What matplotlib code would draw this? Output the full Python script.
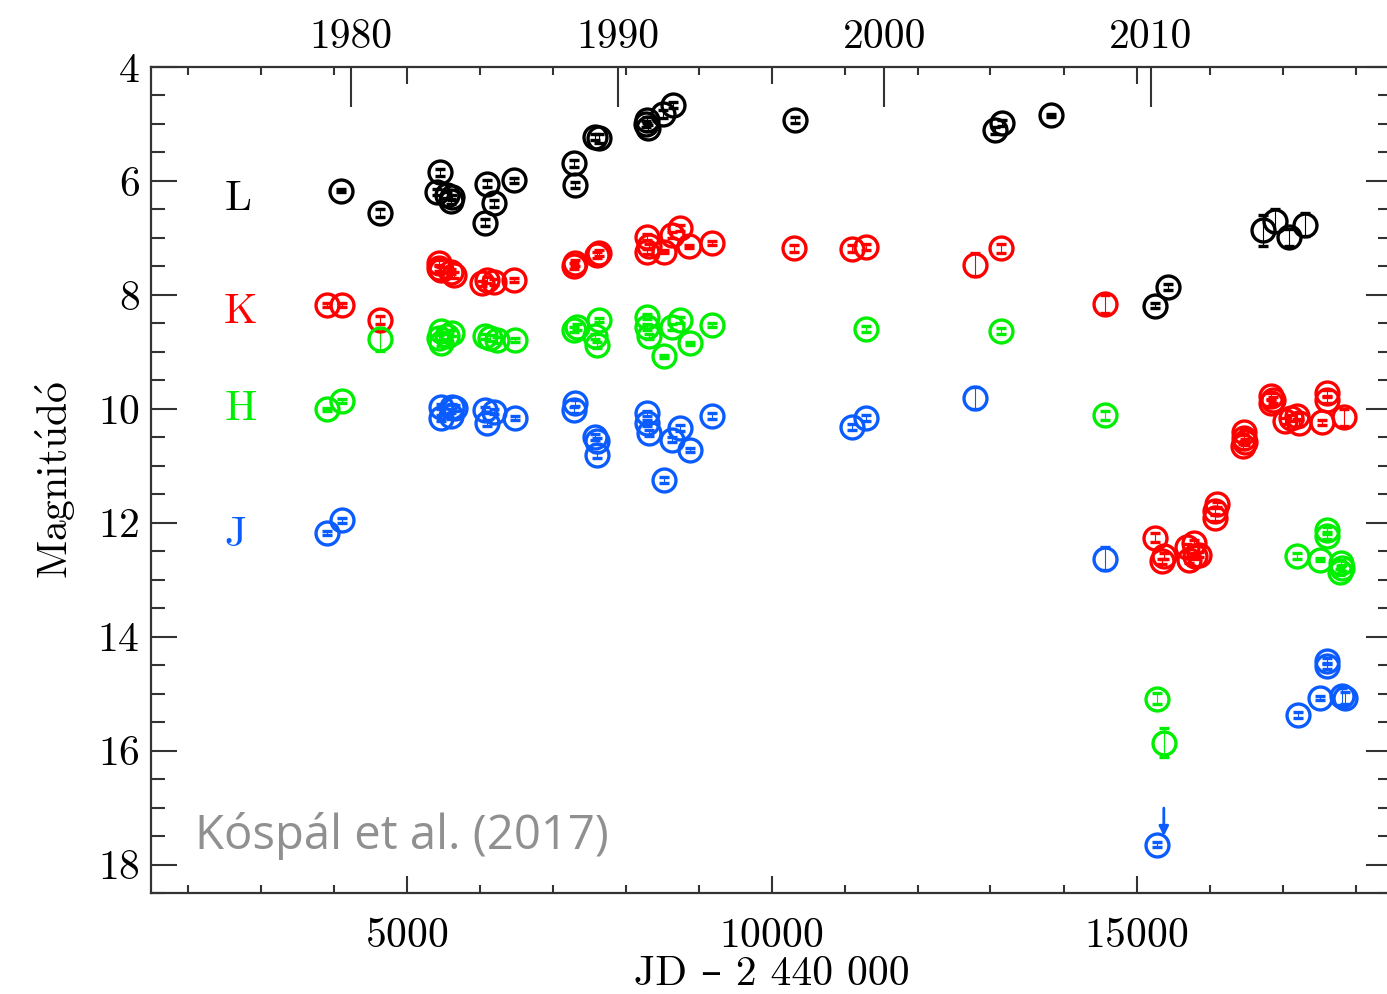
import matplotlib
matplotlib.use("Agg")
import matplotlib.pyplot as plt
from matplotlib.ticker import MultipleLocator, FixedLocator, FixedFormatter

plt.rcParams['font.family'] = ['cmr10', 'DejaVu Serif']
plt.rcParams['mathtext.fontset'] = 'cm'
plt.rcParams['axes.formatter.use_mathtext'] = True

# L band (JD - 2440000, magnitude, error)
l_jd = [4105, 4634, 5456, 5420, 5557, 5623, 5611, 6105, 6196, 6073, 6470, 7292, 7315,
        7589, 7635, 8282, 8296, 8305, 8507, 8644, 10320, 13068, 13155, 13831,
        15260, 15425, 16735, 16904, 17090, 17315]
l_mag = [6.17, 6.56, 5.85, 6.19, 6.25, 6.29, 6.36, 6.05, 6.39, 6.73, 5.99, 5.69, 6.07,
         5.23, 5.25, 5.00, 4.93, 5.07, 4.83, 4.67, 4.93, 5.11, 4.98, 4.85,
         8.19, 7.86, 6.87, 6.70, 6.99, 6.77]
l_err = [0.03, 0.07, 0.06, 0.05, 0.05, 0.05, 0.05, 0.06, 0.06, 0.06, 0.05, 0.06, 0.06,
         0.05, 0.08, 0.05, 0.05, 0.05, 0.07, 0.05, 0.06, 0.06, 0.05, 0.03,
         0.04, 0.05, 0.28, 0.20, 0.15, 0.20]

# K band
k_jd = [3913, 4118, 4634, 5442, 5466, 5603, 5644, 5450, 6105, 6037, 6196, 6470, 7292,
        7315, 7612, 7635, 8296, 8319, 8296, 8525, 8639, 8753, 8867, 9187, 10315, 11096,
        11301, 12794, 13150, 14562, 15260, 15350, 15374, 15694, 15785, 15808, 15717,
        15854, 16105, 16082, 16082, 16470, 16470, 16460, 16480, 16836, 16836, 16870,
        17110, 17223, 17041, 17200, 17603, 17603, 17543, 17838]
k_mag = [8.18, 8.18, 8.44, 7.44, 7.56, 7.59, 7.65, 7.53, 7.74, 7.80, 7.77, 7.74, 7.49,
         7.44, 7.30, 7.27, 6.98, 7.15, 7.24, 7.24, 6.95, 6.83, 7.15, 7.09, 7.18, 7.19,
         7.16, 7.47, 7.18, 8.16, 12.26, 12.68, 12.59, 12.42, 12.36, 12.59, 12.65,
         12.56, 11.68, 11.80, 11.92, 10.40, 10.51, 10.66, 10.58, 9.78, 9.90, 9.84,
         10.16, 10.25, 10.22, 10.13, 9.72, 9.84, 10.24, 10.15]
k_err = [0.03, 0.03, 0.07, 0.05, 0.05, 0.05, 0.05, 0.05, 0.05, 0.05, 0.05, 0.03, 0.05,
         0.05, 0.05, 0.05, 0.05, 0.05, 0.05, 0.03, 0.05, 0.05, 0.03, 0.03, 0.06, 0.06,
         0.05, 0.20, 0.08, 0.15, 0.08, 0.05, 0.05, 0.05, 0.05, 0.05, 0.05,
         0.05, 0.05, 0.05, 0.05, 0.05, 0.05, 0.05, 0.05, 0.05, 0.05, 0.05,
         0.05, 0.05, 0.05, 0.05, 0.05, 0.05, 0.05, 0.15]

# H band
h_jd = [3913, 4118, 4634, 5466, 5466, 5626, 5557, 5450, 6082, 6150, 6242, 6493, 7292,
        7338, 7635, 7612, 7589, 8296, 8296, 8319, 8525, 8639, 8753, 8890, 9187, 11301,
        13150, 14562, 15274, 15374, 17612, 17612, 17200, 17520, 17795, 17817, 17785]
h_mag = [10.01, 9.86, 8.78, 8.64, 8.85, 8.67, 8.73, 8.75, 8.73, 8.76, 8.79, 8.79, 8.61,
         8.56, 8.44, 8.88, 8.73, 8.38, 8.56, 8.73, 9.08, 8.56, 8.44, 8.85, 8.53, 8.60,
         8.63, 10.11, 15.09, 15.86, 12.12, 12.24, 12.59, 12.65, 12.71, 12.80, 12.86]
h_err = [0.03, 0.04, 0.20, 0.05, 0.05, 0.05, 0.05, 0.05, 0.05, 0.05, 0.05, 0.03, 0.05,
         0.05, 0.03, 0.05, 0.05, 0.05, 0.05, 0.05, 0.03, 0.05, 0.05, 0.03, 0.03, 0.05,
         0.05, 0.08, 0.10, 0.25, 0.05, 0.05, 0.05, 0.03, 0.05, 0.05, 0.05]

# J band
j_jd = [3913, 4118, 5466, 5466, 5626, 5603, 5671, 6082, 6105, 6196, 6493, 7315, 7292,
        7589, 7612, 7612, 8296, 8296, 8319, 8525, 8639, 8753, 8890, 9187, 11096, 11301,
        12794, 14562, 15274, 17612, 17612, 17520, 17817, 17863, 17209]
j_mag = [12.18, 11.96, 9.96, 10.16, 9.96, 10.13, 9.99, 10.02, 10.25, 10.05, 10.16, 9.90,
         10.02, 10.49, 10.57, 10.81, 10.08, 10.25, 10.43, 11.25, 10.54, 10.34, 10.72,
         10.13, 10.32, 10.16, 9.81, 12.63, 17.65, 14.43, 14.52, 15.08, 15.05, 15.08, 15.37]
j_err = [0.03, 0.04, 0.05, 0.05, 0.05, 0.05, 0.05, 0.05, 0.05, 0.05, 0.03, 0.05, 0.05,
         0.05, 0.05, 0.05, 0.05, 0.05, 0.05, 0.05, 0.05, 0.05, 0.03, 0.05, 0.05, 0.05,
         0.20, 0.20, 0.05, 0.05, 0.05, 0.03, 0.15, 0.10, 0.05]

# J-band upper limit (arrow)
j_lim_jd = 15374
j_lim_mag = [16.96, 17.55]

bands = [
    ("L", l_jd, l_mag, l_err, "black", (2700, 6.32)),
    ("K", k_jd, k_mag, k_err, "#ff0000", (2730, 8.3)),
    ("H", h_jd, h_mag, h_err, "#00ee00", (2730, 10.0)),
    ("J", j_jd, j_mag, j_err, "#0a5cff", (2660, 12.22)),
]

fig = plt.figure(figsize=(13.87, 9.94), dpi=100)
ax = fig.add_axes([151 / 1387, 101 / 994, (1392 - 151) / 1387, 826 / 994])

for name, xs, ys, es, col, lab in bands:
    ax.errorbar(xs, ys, yerr=es, fmt="o", ms=16.5, mfc="none", mec=col, mew=2.4,
                ecolor=col, elinewidth=0.8, capsize=3.8, capthick=0.8)
    ax.text(lab[0], lab[1], name, color=col, fontsize=31, ha="center", va="center")

ax.annotate("", xy=(j_lim_jd, j_lim_mag[1]), xytext=(j_lim_jd, j_lim_mag[0]),
            arrowprops=dict(arrowstyle="-|>", color="#0a5cff", lw=2, mutation_scale=14))

ax.set_xlim(1500, 18500)
ax.set_ylim(18.5, 4)

ax.xaxis.set_major_locator(MultipleLocator(5000))
ax.xaxis.set_minor_locator(MultipleLocator(1000))
ax.yaxis.set_major_locator(MultipleLocator(2))
ax.yaxis.set_minor_locator(MultipleLocator(0.5))

edge = "#333333"
for s in ax.spines.values():
    s.set_linewidth(1.6)
    s.set_color(edge)

ax.tick_params(axis="x", which="major", direction="in", length=12, width=1.5,
               top=True, bottom=True, labelsize=30, pad=18, color=edge)
ax.tick_params(axis="x", which="minor", direction="in", length=6, width=1.5,
               top=True, bottom=True, color=edge)
ax.tick_params(axis="y", which="major", direction="in", length=19, width=1.5,
               left=True, right=True, labelsize=30, pad=8, color=edge)
ax.tick_params(axis="y", which="minor", direction="in", length=10, width=1.5,
               left=True, right=True, color=edge)

# Calendar years along the top
def jd_to_year(x):
    return 1980 + (x - 4239.5) / 365.25

def year_to_jd(y):
    return 4239.5 + (y - 1980) * 365.25

sec = ax.secondary_xaxis("top", functions=(jd_to_year, year_to_jd))
sec.xaxis.set_major_locator(FixedLocator([1980, 1990, 2000, 2010]))
sec.xaxis.set_major_formatter(FixedFormatter(["1980", "1990", "2000", "2010"]))
sec.tick_params(axis="x", which="major", direction="in", length=29, width=1.5,
                labelsize=30, pad=8, color=edge)
sec.tick_params(axis="x", which="minor", length=0)
sec.spines["top"].set_visible(False)

ax.set_xlabel("JD – 2 440 000", fontsize=30, labelpad=0)
ax.set_ylabel(r"$\mathrm{Magnit\acute{u}d\acute{o}}$", fontsize=30, labelpad=14)

fig.text(195 / 1387, 1 - 836 / 994, "Kóspál et al. (2017)", fontsize=34,
         family="Open Sans", color="#909090", ha="left", va="center")

fig.savefig("out.png", dpi=100)
